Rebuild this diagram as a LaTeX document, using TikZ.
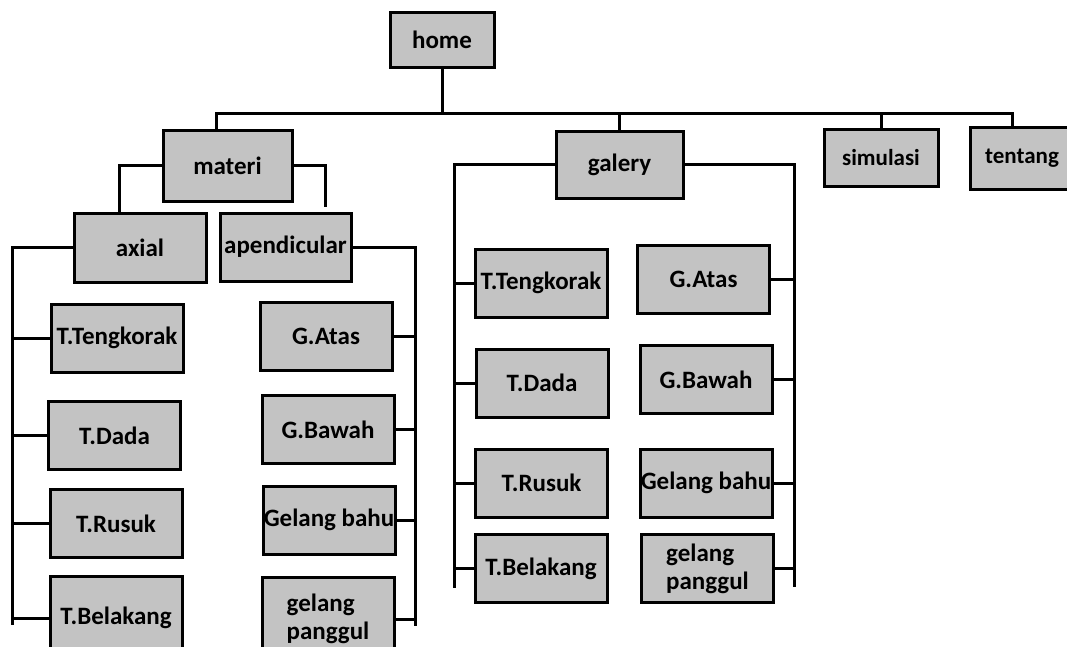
\documentclass[tikz,border=0pt]{standalone}
\usepackage{fontspec}
\setmainfont{Carlito}
\definecolor{boxgray}{RGB}{195,195,195}

\begin{document}
\begin{tikzpicture}[x=1pt,y=-1pt,
  menu/.style={draw,line width=3pt,fill=boxgray,inner sep=0pt,
    minimum width=132pt,minimum height=68pt,font=\bfseries\fontsize{25}{28}\selectfont},
  topmenu/.style={menu,font=\bfseries\fontsize{23}{26}\selectfont},
  link/.style={line width=3pt}]
%picture
\useasboundingbox (0,0) rectangle (1067,646);
\node[menu,minimum width=104pt,minimum height=55pt] (home) at (442,39.5) {home};
\node[menu,minimum width=129pt,minimum height=71pt] (materi) at (227.5,165.5) {materi};
\node[menu,minimum height=69pt] (axial) at (140,247.5) {axial};
\node[menu,minimum width=131pt] (apendicular) at (285.5,247) {apendicular};
\node[menu,minimum width=127pt,minimum height=67pt] (galery) at (619.5,164.5) {galery};
\node[topmenu,minimum width=114pt,minimum height=57pt] (simulasi) at (881,158) {simulasi};
\node[topmenu,minimum width=104pt,minimum height=62pt] (tentang) at (1022,158) {tentang};

\node[menu] (atengkorak) at (117,338) {T.Tengkorak};
\node[menu] (adada) at (114.5,435.5) {T.Dada};
\node[menu] (arusuk) at (116,523.5) {T.Rusuk};
\node[menu,minimum height=84pt] (abelakang) at (116,618) {T.Belakang};
\node[menu] (patas) at (326,336) {G.Atas};
\node[menu] (pbawah) at (328,429.5) {G.Bawah};
\node[menu] (pbahu) at (329,520) {Gelang bahu};
\node[menu,minimum height=84pt,align=left] (ppanggul) at (328,619) {gelang\\panggul};

\node[menu] (gtengkorak) at (541,283) {T.Tengkorak};
\node[menu] (gdada) at (542,383) {T.Dada};
\node[menu] (grusuk) at (541.5,483) {T.Rusuk};
\node[menu] (gbelakang) at (541,568.5) {T.Belakang};
\node[menu] (gatas) at (703.5,279.5) {G.Atas};
\node[menu] (gbawah) at (706,379.5) {G.Bawah};
\node[menu] (gbahu) at (706,483) {Gelang bahu};
\node[menu,align=left] (gpanggul) at (707.5,568.5) {gelang\\panggul};

\coordinate (bus) at (0,113);
\coordinate (axbot) at (12,625);
\coordinate (apbot) at (415,626);
\coordinate (glbot) at (454,588);
\coordinate (grbot) at (794,587);

\draw[link] (home.south) -- (home.south |- bus);
\draw[link] ([xshift=-11pt]materi.north) |- ([xshift=-10pt]tentang.north |- bus) -- ([xshift=-10pt]tentang.north);
\draw[link] (galery.north) -- (galery.north |- bus);
\draw[link] (simulasi.north) -- (simulasi.north |- bus);

\draw[link] (materi.west) -| ([xshift=-21pt]axial.north);
\draw[link] (materi.east) -| ([xshift=40pt,yshift=5pt]apendicular.north);

\draw[link] (axial.west) -| (axbot);
\draw[link] (atengkorak.west) -- (atengkorak.west -| axbot);
\draw[link] (adada.west) -- (adada.west -| axbot);
\draw[link] (arusuk.west) -- (arusuk.west -| axbot);
\draw[link] (abelakang.west) -- (abelakang.west -| axbot);

\draw[link] (apendicular.east) -| (apbot);
\draw[link] (patas.east) -- (patas.east -| apbot);
\draw[link] (pbawah.east) -- (pbawah.east -| apbot);
\draw[link] (pbahu.east) -- (pbahu.east -| apbot);
\draw[link] (ppanggul.east) -- (ppanggul.east -| apbot);

\draw[link] (galery.west) -| (glbot);
\draw[link] (gtengkorak.west) -- (gtengkorak.west -| glbot);
\draw[link] (gdada.west) -- (gdada.west -| glbot);
\draw[link] (grusuk.west) -- (grusuk.west -| glbot);
\draw[link] (gbelakang.west) -- (gbelakang.west -| glbot);

\draw[link] (galery.east) -| (grbot);
\draw[link] (gatas.east) -- (gatas.east -| grbot);
\draw[link] (gbawah.east) -- (gbawah.east -| grbot);
\draw[link] (gbahu.east) -- (gbahu.east -| grbot);
\draw[link] (gpanggul.east) -- (gpanggul.east -| grbot);
\end{tikzpicture}
\end{document}
